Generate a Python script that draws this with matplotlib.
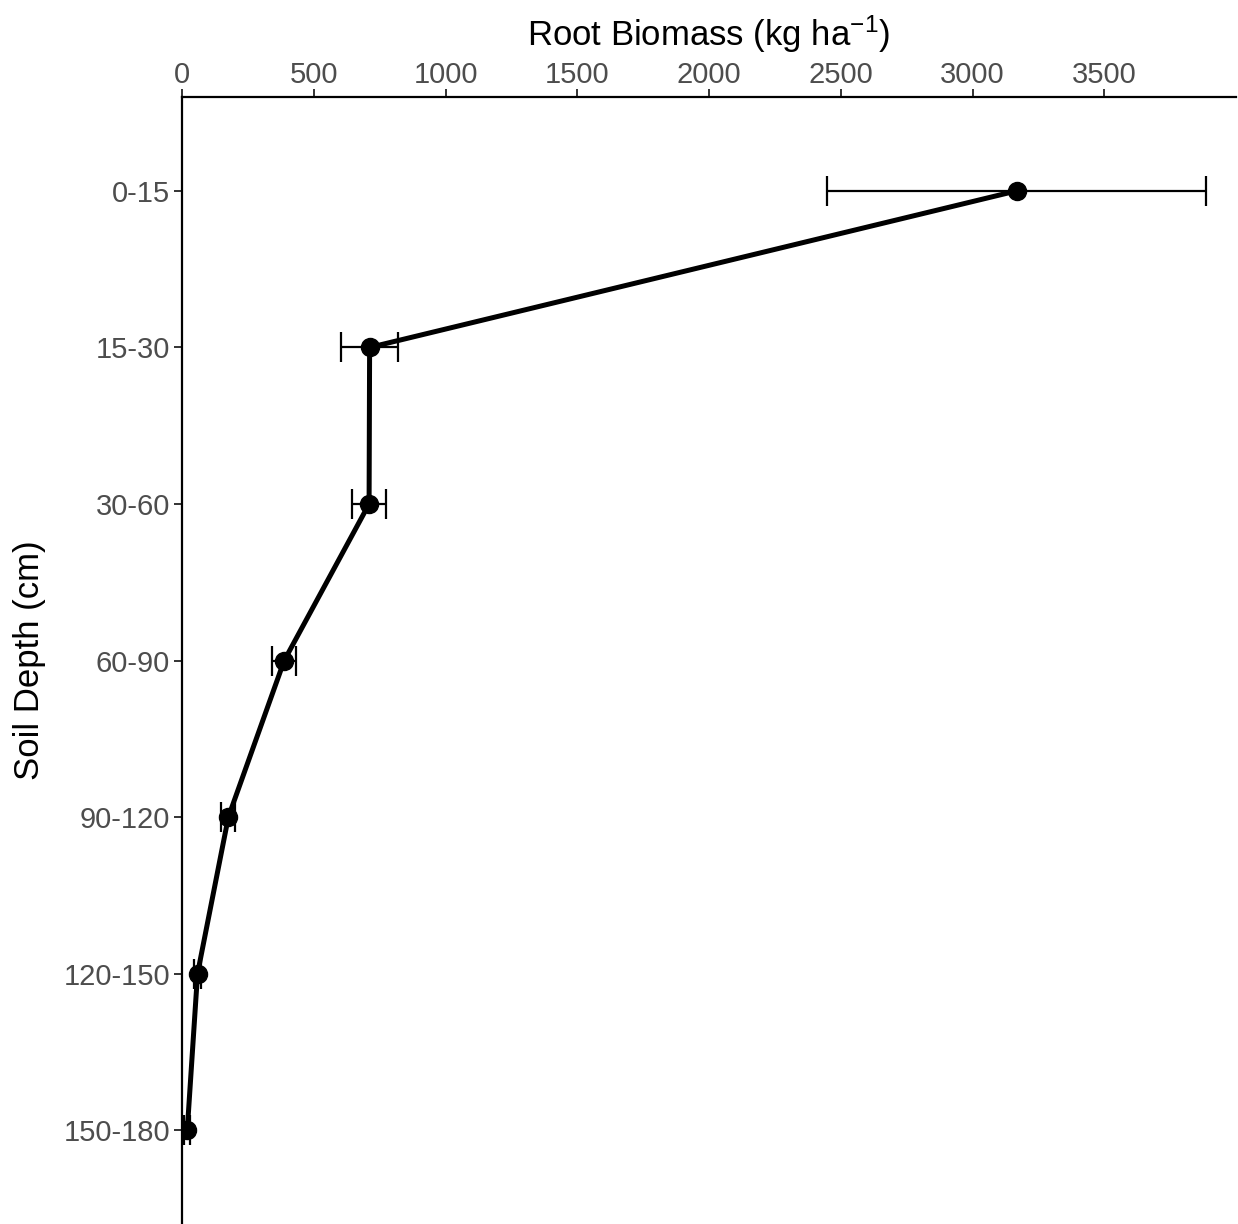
import matplotlib
matplotlib.use("Agg")
import matplotlib.pyplot as plt
import numpy as np

plt.rcParams['font.family'] = ['Liberation Sans', 'DejaVu Sans']
plt.rcParams['mathtext.fontset'] = 'custom'
plt.rcParams['mathtext.rm'] = 'Liberation Sans'
plt.rcParams['mathtext.it'] = 'Liberation Sans:italic'

depths = ["0-15", "15-30", "30-60", "60-90", "90-120", "120-150", "150-180"]
biomass = [3167, 712, 710, 388, 176, 59, 20]
errors = [721, 107, 63, 45, 27, 12, 12]
xticks = [0, 500, 1000, 1500, 2000, 2500, 3000, 3500]

fig = plt.figure(figsize=(12.38, 12.24), dpi=100)
ax = fig.add_axes([182/1238, 0.0, (1236-182)/1238, 1 - 97/1224])

ypos = np.arange(1, len(depths) + 1)
ax.plot(biomass, ypos, color='black', lw=3.6, zorder=2, solid_capstyle='round')
ax.errorbar(biomass, ypos, xerr=errors, fmt='none', ecolor='black', elinewidth=1.6,
            capsize=11, capthick=1.6, zorder=3)
ax.plot(biomass, ypos, 'o', color='black', ms=13, zorder=4)

ax.set_xlim(0, 4000)
ax.set_ylim(7.6, 0.4)
ax.set_yticks(ypos)
ax.set_yticklabels(depths)
ax.set_xticks(xticks)
ax.set_xticklabels([str(v) for v in xticks])

ax.xaxis.tick_top()
ax.xaxis.set_label_position('top')
for s in ['right', 'bottom']:
    ax.spines[s].set_visible(False)
for s in ['top', 'left']:
    ax.spines[s].set_linewidth(1.6)
    ax.spines[s].set_color('black')

ax.tick_params(axis='both', which='major', length=5.5, width=1.4, color='#333333',
               labelsize=21, labelcolor='#4D4D4D', pad=3)
ax.tick_params(axis='x', pad=0)

ax.set_xlabel(r"Root Biomass (kg ha$^{-1}$)", fontsize=25, color='black', labelpad=11)
ax.set_ylabel("Soil Depth (cm)", fontsize=25, color='black', labelpad=13)

fig.savefig("out.png", dpi=100)
